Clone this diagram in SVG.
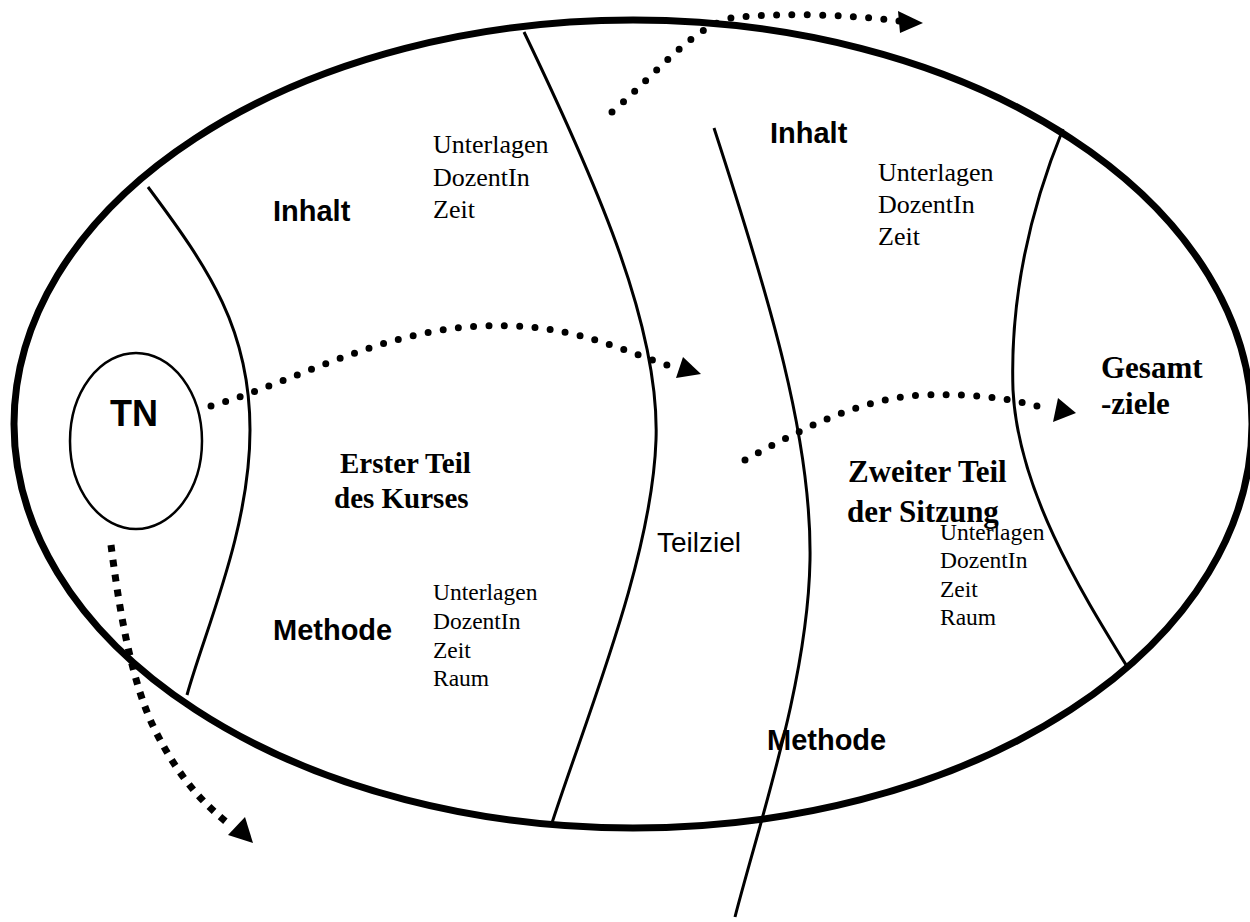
<svg xmlns="http://www.w3.org/2000/svg" width="1250" height="922" viewBox="0 0 1250 922">
<style>
.bg{fill:#fff}
.outer{fill:none;stroke:#000;stroke-width:7}
.div{fill:none;stroke:#000;stroke-width:3}
.tn{fill:none;stroke:#000;stroke-width:2.5}
.dots{fill:none;stroke:#000;stroke-width:7;stroke-linecap:round;stroke-dasharray:0 15.3}
.sq{fill:none;stroke:#000;stroke-width:7;stroke-dasharray:7 8}
.head{fill:#000}
.sb{font-family:"Liberation Sans",Arial,sans-serif;font-weight:bold;fill:#000}
.s{font-family:"Liberation Sans",Arial,sans-serif;fill:#000}
.tb{font-family:"Liberation Serif","Times New Roman",serif;font-weight:bold;fill:#000}
.t{font-family:"Liberation Serif","Times New Roman",serif;fill:#000}
</style>
<rect class="bg" x="0" y="0" width="1250" height="922"/>
<g id="course">
<ellipse class="outer" cx="633" cy="424" rx="619" ry="404"/>
</g>
<g id="dividers">
<path class="div" d="M148,187 C210,270 250,330 250,430 C250,530 205,630 187,695"/>
<path class="div" d="M524,32 C600,190 660,330 656,440 C652,560 585,720 551,826"/>
<path class="div" d="M714,128 C770,300 812,440 810,560 C808,680 760,820 735,917"/>
<path class="div" d="M1063,129 C1030,210 1010,300 1013,390 C1018,490 1080,590 1128,668"/>
</g>
<g id="tn">
<ellipse class="tn" cx="136" cy="441" rx="66" ry="88"/>
<text class="sb" x="134" y="426" font-size="36" text-anchor="middle">TN</text>
</g>
<g id="part1">
<text class="sb" x="273" y="221" font-size="29">Inhalt</text>
<text class="t" x="433" y="153" font-size="26">Unterlagen</text>
<text class="t" x="433" y="186" font-size="26">DozentIn</text>
<text class="t" x="433" y="218" font-size="26">Zeit</text>
<text class="tb" x="340" y="473" font-size="29">Erster Teil</text>
<text class="tb" x="334" y="508" font-size="29">des Kurses</text>
<text class="sb" x="273" y="640" font-size="29">Methode</text>
<text class="t" x="433" y="600" font-size="23.5">Unterlagen</text>
<text class="t" x="433" y="629" font-size="23.5">DozentIn</text>
<text class="t" x="433" y="658" font-size="23.5">Zeit</text>
<text class="t" x="433" y="686" font-size="23.5">Raum</text>
</g>
<g id="teilziel">
<text class="s" x="657" y="552" font-size="28">Teilziel</text>
</g>
<g id="part2">
<text class="sb" x="770" y="143" font-size="29">Inhalt</text>
<text class="t" x="878" y="181" font-size="26">Unterlagen</text>
<text class="t" x="878" y="213" font-size="26">DozentIn</text>
<text class="t" x="878" y="245" font-size="26">Zeit</text>
<text class="tb" x="848" y="482" font-size="31">Zweiter Teil</text>
<text class="tb" x="847" y="522" font-size="31">der Sitzung</text>
<text class="t" x="940" y="540" font-size="23.5">Unterlagen</text>
<text class="t" x="940" y="568" font-size="23.5">DozentIn</text>
<text class="t" x="940" y="597" font-size="23.5">Zeit</text>
<text class="t" x="940" y="625" font-size="23.5">Raum</text>
<text class="sb" x="767" y="750" font-size="29">Methode</text>
</g>
<g id="goals">
<text class="tb" x="1101" y="378" font-size="31">Gesamt</text>
<text class="tb" x="1101" y="414" font-size="31">-ziele</text>
</g>
<g id="connectors">
<path class="dots" d="M612,112 C660,70 690,30 730,18 C780,12 850,15 900,21"/>
<polygon class="head" points="898,11 923,23 900,33"/>
<path class="dots" d="M211,406 C300,380 380,330 483,326 C570,322 620,350 670,366"/>
<polygon class="head" points="683,357 701,374 676,378"/>
<path class="dots" d="M745,460 C800,430 860,398 923,395 C980,393 1020,400 1050,410"/>
<polygon class="head" points="1058,398 1076,413 1053,422"/>
<path class="sq" d="M111,545 C118,600 130,680 155,730 C180,780 205,805 230,825"/>
<polygon class="head" points="228,835 253,843 245,817"/>
</g>
</svg>
